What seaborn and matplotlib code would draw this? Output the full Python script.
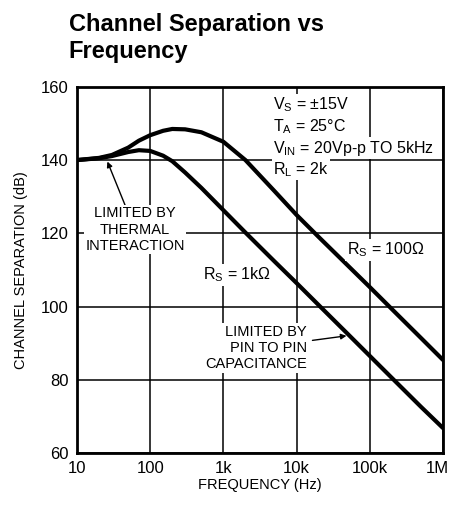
import numpy as np
import pandas as pd
import matplotlib
matplotlib.use('Agg')
import matplotlib.pyplot as plt
import seaborn as sns

# Data
freq_hz = [10, 20, 30, 50, 70, 100, 150, 200, 300, 500, 1000, 2000, 5000,
           10000, 20000, 50000, 100000, 200000, 500000, 1000000]
sep_rs100 = [140.0, 140.6, 141.4, 143.4, 145.3, 146.8, 148.0, 148.5, 148.4, 147.6,
             145.0, 140.0, 131.5, 125.0, 119.0, 111.2, 105.3, 99.3, 91.4, 85.4]
sep_rs1k = [140.0, 140.5, 141.1, 142.2, 142.7, 142.5, 141.2, 139.7, 136.6, 132.4,
            126.3, 120.2, 112.3, 106.4, 100.4, 92.5, 86.5, 80.5, 72.6, 66.8]
x_ticks = [10, 100, 1000, 10000, 100000, 1000000]
x_labels = ['10', '100', '1k', '10k', '100k', '1M']
y_ticks = [60, 80, 100, 120, 140, 160]

df = pd.DataFrame({
    'freq': freq_hz * 2,
    'sep': sep_rs100 + sep_rs1k,
    'rs': ['100'] * len(freq_hz) + ['1k'] * len(freq_hz),
})

sns.set_style('white')
plt.rcParams['font.family'] = ['Liberation Sans', 'DejaVu Sans']
plt.rcParams['mathtext.fontset'] = 'custom'
plt.rcParams['mathtext.rm'] = 'Liberation Sans'
plt.rcParams['mathtext.it'] = 'Liberation Sans'
for k in ['text.color', 'axes.labelcolor', 'xtick.color', 'ytick.color']:
    plt.rcParams[k] = 'black'

fig = plt.figure(figsize=(4.53, 5.05), dpi=100)
ax = fig.add_axes([0.170, 0.103, 0.808, 0.725])

sns.lineplot(data=df, x='freq', y='sep', hue='rs', palette=['black', 'black'],
             linewidth=3.0, legend=False, ax=ax, zorder=3)

ax.set_xscale('log')
ax.set_xlim(10, 1e6)
ax.set_ylim(60, 160)
ax.set_xticks(x_ticks)
ax.set_xticklabels(x_labels)
ax.set_yticks(y_ticks)
ax.minorticks_off()
ax.tick_params(axis='both', labelsize=12, length=0, pad=6)
# keep the last tick label inside the figure, as in the reference
last = ax.get_xticklabels()[-1]
last.set_horizontalalignment('right')
last.set_x(last.get_position()[0])
import matplotlib.transforms as mtransforms
last.set_transform(last.get_transform() + mtransforms.ScaledTranslation(4 / 72, 0, fig.dpi_scale_trans))
ax.grid(True, color='black', linewidth=1.1)
for s in ax.spines.values():
    s.set_linewidth(2.0)
    s.set_color('black')

ax.set_xlabel('FREQUENCY (Hz)', fontsize=10.5, labelpad=1)
ax.set_ylabel('CHANNEL SEPARATION (dB)', fontsize=10.5, labelpad=9)

fig.text(0.152, 0.974, 'Channel Separation vs\nFrequency', fontsize=17,
         fontweight='bold', ha='left', va='top', linespacing=1.2)

box = dict(facecolor='white', edgecolor='none', pad=1)

# Test conditions
cond = ['V$_S$ = ±15V', 'T$_A$ = 25°C', 'V$_{IN}$ = 20Vp-p TO 5kHz', 'R$_L$ = 2k']
for i, t in enumerate(cond):
    ax.text(0.536, 0.951 - i * 0.059, t, transform=ax.transAxes, fontsize=11.5,
            ha='left', va='center', bbox=box, zorder=4)
ax.text(165000, 115.5, 'R$_S$ = 100Ω', fontsize=11.5,
        ha='center', va='center', bbox=box, zorder=4)
ax.text(1550, 108.6, 'R$_S$ = 1kΩ', fontsize=11.5,
        ha='center', va='center', bbox=box, zorder=4)

ax.annotate('LIMITED BY\nTHERMAL\nINTERACTION', xy=(26, 139.6), xytext=(62, 121),
            fontsize=10.5, ha='center', va='center', linespacing=1.2, zorder=4,
            bbox=box, arrowprops=dict(arrowstyle='-|>', color='black', lw=1.0,
                                      shrinkA=0, shrinkB=0, mutation_scale=8))
ax.annotate('LIMITED BY\nPIN TO PIN\nCAPACITANCE', xy=(48000, 92.0), xytext=(13800, 88.7),
            fontsize=10.5, ha='right', va='center', linespacing=1.2, zorder=4,
            bbox=box, arrowprops=dict(arrowstyle='-|>', color='black', lw=1.0,
                                      shrinkA=3, shrinkB=0, mutation_scale=8))

fig.savefig('out.png', dpi=100)
